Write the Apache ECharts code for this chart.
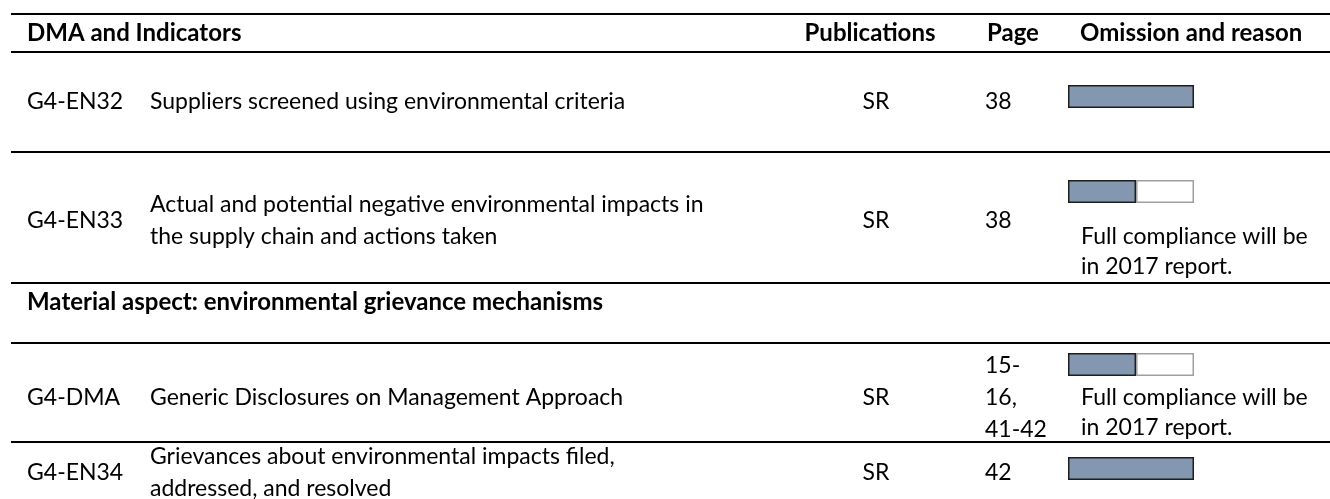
<!DOCTYPE html>
<html>
<head>
<meta charset="utf-8">
<script src="https://cdn.jsdelivr.net/npm/echarts@6/dist/echarts.min.js"></script>
<style>
html,body{margin:0;padding:0;background:#fff;}
#chart{width:1330px;height:499px;}
</style>
</head>
<body>
<div id="chart"></div>
<script>
// ---- data ----
const headers = ['DMA and Indicators', 'Publications', 'Page', 'Omission and reason'];
const sectionTitle = 'Material aspect: environmental grievance mechanisms';
const codes = ['G4-EN32', 'G4-EN33', 'G4-DMA', 'G4-EN34'];
const descriptions = [
  ['Suppliers screened using environmental criteria'],
  ['Actual and potential negative environmental impacts in', 'the supply chain and actions taken'],
  ['Generic Disclosures on Management Approach'],
  ['Grievances about environmental impacts filed,', 'addressed, and resolved']
];
const publications = ['SR', 'SR', 'SR', 'SR'];
const pages = [['38'], ['38'], ['15-', '16,', '41-42'], ['42']];
const omissionNotes = [[], ['Full compliance will be', 'in 2017 report.'], ['Full compliance will be', 'in 2017 report.'], []];
const progress = [100, 54, 54, 100];   // share of compliance shown by the bar (%)

// ---- layout ----
const FONT = 'Lato, "Open Sans", sans-serif';
const FS = 23, FSB = 24;
const LH = 32;
const rowCenterY = [102, 221, 398, 473];
const noteTopY = [0, 237, 398, 0];
const noteLH = 30;
const barTop = [85, 180, 353, 457];
const barH = 23;
const barLeft = 1068, barW = 126;
const ruleY = [14, 52, 152, 283, 343, 442];
const colX = {code: 27, desc: 150, pub: 876, page: 985, note: 1081};

const chart = echarts.init(document.getElementById('chart'), null, {renderer: 'canvas'});
const graphics = [];
function txt(s, x, y, opts) {
  const bold = opts && opts.bold;
  graphics.push({
    type: 'text', x: x, y: y, silent: true,
    style: {text: s, font: (bold ? 'bold ' + FSB : FS) + 'px ' + FONT,
      fill: '#000', textAlign: (opts && opts.align) || 'left', textVerticalAlign: 'middle'}
  });
}
ruleY.forEach(y => graphics.push({type: 'line', silent: true,
  shape: {x1: 11, y1: y, x2: 1330, y2: y}, style: {stroke: '#000', lineWidth: 2}}));
txt(headers[0], 27, 33, {bold: true});
txt(headers[1], 870, 33, {bold: true, align: 'center'});
txt(headers[2], 987, 33, {bold: true});
txt(headers[3], 1080, 33, {bold: true});
txt(sectionTitle, 27, 302, {bold: true});
codes.forEach((c, i) => {
  const cy = rowCenterY[i];
  txt(c, colX.code, cy);
  const d = descriptions[i];
  d.forEach((s, k) => txt(s, colX.desc, cy + (k - (d.length - 1) / 2) * LH));
  txt(publications[i], colX.pub, cy, {align: 'center'});
  const p = pages[i];
  p.forEach((s, k) => txt(s, colX.page, cy + (k - (p.length - 1) / 2) * LH));
  omissionNotes[i].forEach((s, k) => txt(s, colX.note, noteTopY[i] + k * noteLH));
});

const grids = [], xAxes = [], yAxes = [], series = [];
progress.forEach((v, i) => {
  grids.push({left: barLeft, top: barTop[i], width: barW, height: barH});
  xAxes.push({type: 'value', gridIndex: i, min: 0, max: 100, show: false});
  yAxes.push({type: 'category', gridIndex: i, data: [codes[i]], show: false});
  series.push({type: 'bar', xAxisIndex: i, yAxisIndex: i, stack: 's' + i, barWidth: '100%',
    data: [v], itemStyle: {color: '#8497B0', borderColor: '#1e1e1e', borderWidth: 1.5}, silent: true});
  series.push({type: 'bar', xAxisIndex: i, yAxisIndex: i, stack: 's' + i, barWidth: '100%',
    data: [100 - v > 0 ? 100 - v : '-'], itemStyle: {color: '#fff', borderColor: '#a0a0a0', borderWidth: 1.5}, silent: true});
});

chart.setOption({
  animation: false,
  backgroundColor: '#fff',
  grid: grids, xAxis: xAxes, yAxis: yAxes, series: series,
  graphic: graphics
});
</script>
</body>
</html>
